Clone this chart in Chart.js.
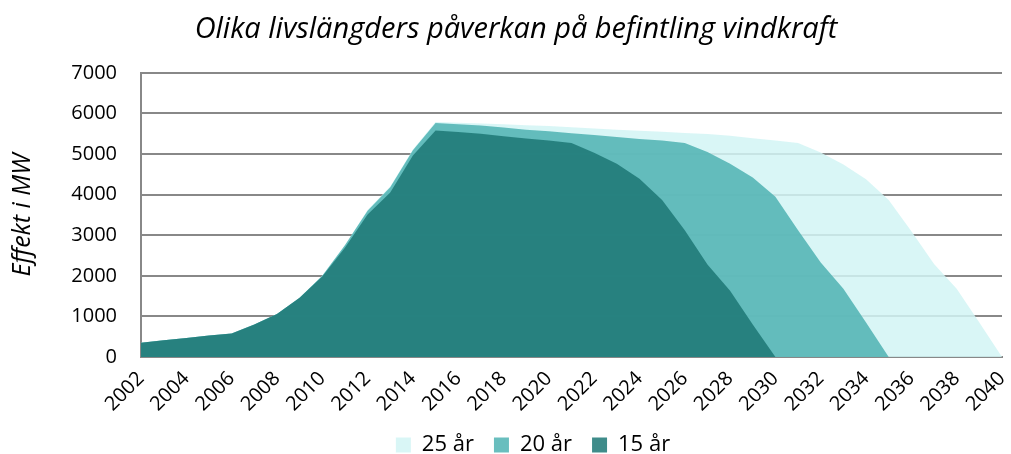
<!DOCTYPE html>
<html lang="sv">
<head>
<meta charset="utf-8">
<title>Olika livslängders påverkan på befintling vindkraft</title>
<script src="https://cdn.jsdelivr.net/npm/chart.js@4.4.1/dist/chart.umd.min.js"></script>
<style>
    html, body { margin: 0; padding: 0; background: #ffffff; }
    #wrap { width: 1011px; height: 454px; position: relative; }
</style>
</head>
<body>
<div id="wrap"><canvas id="chart"></canvas></div>
<script>
// Years on the category axis
const years = [];
for (let y = 2002; y <= 2040; y++) years.push(String(y));

// Installed capacity (MW) per assumed turbine lifetime
const life25 = [
    350, 410, 470, 530, 580, 800, 1060, 1460, 2000, 2750,
    3620, 4200, 5110, 5790, 5770, 5750, 5730, 5710, 5690, 5660,
    5630, 5600, 5570, 5545, 5520, 5490, 5450, 5390, 5330, 5270,
    5040, 4740, 4380, 3870, 3100, 2290, 1680, 850, 0
];
const life20 = [
    350, 410, 470, 530, 580, 800, 1060, 1460, 2000, 2750,
    3600, 4180, 5090, 5765, 5730, 5700, 5650, 5600, 5560, 5510,
    5470, 5420, 5370, 5330, 5270, 5050, 4760, 4420, 3950, 3120,
    2330, 1680, 850, 0, 0, 0, 0, 0, 0
];
const life15 = [
    350, 410, 470, 530, 580, 800, 1060, 1460, 1985, 2690,
    3510, 4050, 4960, 5580, 5540, 5500, 5440, 5380, 5335, 5270,
    5030, 4760, 4390, 3870, 3120, 2280, 1630, 800, 0, 0,
    0, 0, 0, 0, 0, 0, 0, 0, 0
];

const yTicks = [0, 1000, 2000, 3000, 4000, 5000, 6000, 7000];

const FONT = '"Open Sans", "Noto Sans", sans-serif';
const GRID = '#888888';

function series(label, data, color, order) {
    return {
        label: label,
        data: data,
        backgroundColor: color,
        borderColor: color,
        borderWidth: 0,
        pointRadius: 0,
        pointHoverRadius: 0,
        tension: 0,
        fill: 'origin',
        order: order,
    };
}

// Title and legend sit a bit right of the canvas centre in the original
const nudgeBlocks = {
    id: 'nudgeBlocks',
    afterLayout(chart) {
        if (chart.titleBlock) chart.titleBlock.left += 30;
        if (chart.legend) chart.legend.left += 64;
    },
};

new Chart(document.getElementById('chart'), {
    type: 'line',
    data: {
        labels: years,
        datasets: [
            series('25 år', life25, 'rgba(210,244,244,0.85)', 3),
            series('20 år', life20, 'rgba(79,179,179,0.85)', 2),
            series('15 år', life15, 'rgba(29,120,117,0.85)', 1),
        ]
    },
    plugins: [nudgeBlocks],
    options: {
        responsive: true,
        maintainAspectRatio: false,
        animation: false,
        layout: { padding: { left: 0, right: 9, top: 0, bottom: -12 } },
        plugins: {
            title: {
                display: true,
                text: 'Olika livslängders påverkan på befintling vindkraft',
                color: '#000000',
                font: { family: FONT, size: 29, style: 'italic', weight: 'normal' },
                padding: { top: 12, bottom: 26 },
            },
            legend: {
                position: 'bottom',
                labels: {
                    color: '#000000',
                    font: { family: FONT, size: 22 },
                    boxWidth: 15,
                    boxHeight: 15,
                    padding: 20,
                    sort: (a, b) => a.datasetIndex - b.datasetIndex,
                },
            },
            tooltip: { enabled: false },
        },
        scales: {
            x: {
                type: 'category',
                offset: false,
                grid: { display: false, drawTicks: false },
                border: { display: true, color: GRID, width: 2 },
                ticks: {
                    autoSkip: false,
                    maxRotation: 45,
                    minRotation: 45,
                    padding: 10,
                    color: '#000000',
                    font: { family: FONT, size: 20 },
                    callback: function (val, i) {
                        return i % 2 === 0 ? this.getLabelForValue(val) : '';
                    },
                },
                afterFit: (scale) => {
                    scale.height = 57;
                    scale.paddingLeft = 0;
                    scale.paddingRight = 0;
                },
            },
            y: {
                min: 0,
                max: 7000,
                afterBuildTicks: (scale) => {
                    scale.ticks = yTicks.map(v => ({ value: v }));
                },
                grid: { color: GRID, lineWidth: 2, drawTicks: false },
                border: { display: true, color: GRID, width: 2 },
                ticks: {
                    padding: 24,
                    color: '#000000',
                    font: { family: FONT, size: 20 },
                    callback: (v) => String(v),
                },
                title: {
                    display: true,
                    text: 'Effekt i MW',
                    color: '#000000',
                    font: { family: FONT, size: 25, style: 'italic' },
                    padding: { top: 8, bottom: 0 },
                },
                afterFit: (scale) => { scale.width = 141; },
            },
        },
    },
});
</script>
</body>
</html>
